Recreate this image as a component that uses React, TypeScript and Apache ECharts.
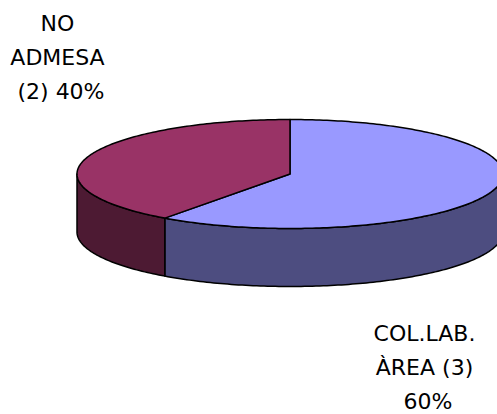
import React, { useEffect, useRef } from "react";
import * as echarts from "echarts";

// Survey answers: category names and how many answers each got
const categories = ["COL.LAB. ÀREA", "NO ADMESA"];
const counts = [3, 2];

// Face colours of the extruded pie: lit top and shaded wall
const topColors = ["#9999FF", "#993366"];
const sideColors = ["#4D4D80", "#4D1A33"];

// Where each slice's label is placed (centre of the text block)
const labelAnchors: [number, number][] = [
  [428, 367],
  [61, 57],
];

const CX = 290;
const CY = 174;
const RX = 213;
const RY = 54.5;
const DEPTH = 58;

function point(a: number, dy: number): number[] {
  return [CX + RX * Math.sin(a), CY - RY * Math.cos(a) + dy];
}

function arcPoints(from: number, to: number, dy: number): number[][] {
  const steps = Math.max(2, Math.ceil(Math.abs(to - from) / (Math.PI / 180)));
  const pts: number[][] = [];
  for (let k = 0; k <= steps; k++) {
    pts.push(point(from + ((to - from) * k) / steps, dy));
  }
  return pts;
}

function renderSlice(params: any, api: any) {
  const i = params.dataIndex;
  const total = counts.reduce((s, v) => s + v, 0);
  const before = counts.slice(0, i).reduce((s, v) => s + v, 0);
  const value = api.value(0);
  const a0 = (before / total) * Math.PI * 2;
  const a1 = ((before + value) / total) * Math.PI * 2;

  const stroke = { stroke: "#000", lineWidth: 1.5, lineJoin: "round" };
  const children: any[] = [];

  // visible wall: the part of the rim on the front half of the ellipse
  const s0 = Math.max(a0, Math.PI / 2);
  const s1 = Math.min(a1, (Math.PI * 3) / 2);
  if (s1 > s0) {
    children.push({
      type: "polygon",
      z2: 1,
      shape: { points: [...arcPoints(s0, s1, 0), ...arcPoints(s1, s0, DEPTH)] },
      style: { fill: sideColors[i], ...stroke },
    });
  }

  children.push({
    type: "polygon",
    z2: 10,
    shape: { points: [[CX, CY], ...arcPoints(a0, a1, 0)] },
    style: { fill: topColors[i], ...stroke },
  });

  const pct = Math.round((value / total) * 100);
  const [lx, ly] = labelAnchors[i];
  children.push({
    type: "text",
    z2: 20,
    x: lx,
    y: ly,
    style: {
      text: `${categories[i]} (${value}) ${pct}%`,
      fill: "#000",
      fontFamily: "DejaVu Sans",
      fontSize: 22,
      lineHeight: 34,
      align: "center",
      verticalAlign: "middle",
      width: 112,
      overflow: "break",
    },
  });

  return { type: "group", children };
}

export default function App() {
  const ref = useRef<HTMLDivElement>(null);

  useEffect(() => {
    if (!ref.current) return;
    const chart = echarts.init(ref.current, undefined, { renderer: "svg" });
    chart.setOption({
      animation: false,
      backgroundColor: "#ffffff",
      series: [
        {
          type: "custom",
          coordinateSystem: "none",
          data: categories.map((name, i) => ({ name, value: counts[i] })),
          renderItem: renderSlice,
        },
      ],
    });
    return () => chart.dispose();
  }, []);

  return (
    <div
      ref={ref}
      style={{ position: "fixed", left: 0, top: 0, width: 497, height: 414 }}
    />
  );
}
